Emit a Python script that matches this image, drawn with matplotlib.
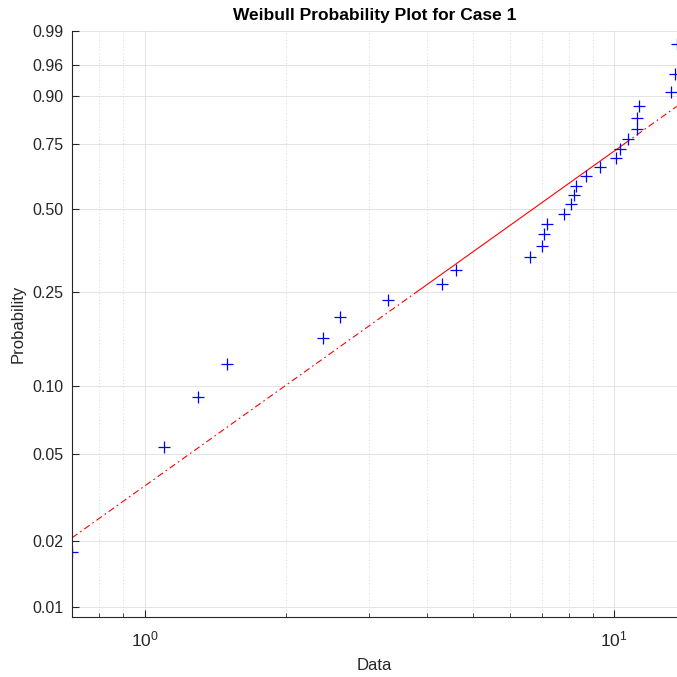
import numpy as np
import matplotlib
matplotlib.use("Agg")
import matplotlib.pyplot as plt
from matplotlib.ticker import FixedLocator, NullLocator, NullFormatter

plt.rcParams["font.family"] = ["Liberation Sans", "DejaVu Sans"]
plt.rcParams["mathtext.fontset"] = "custom"
plt.rcParams["mathtext.rm"] = "Liberation Sans"
plt.rcParams["mathtext.it"] = "Liberation Sans:italic"
plt.rcParams["mathtext.bf"] = "Liberation Sans:bold"

# дані, відсортовані
data = [0.70, 1.10, 1.30, 1.50, 2.40, 2.60, 3.30, 4.30, 4.60, 6.60,
        7.00, 7.10, 7.20, 7.80, 8.10, 8.20, 8.30, 8.70, 9.30, 10.1,
        10.3, 10.7, 11.2, 11.2, 11.3, 13.2, 13.5, 13.6]
prob_ticks = [0.01, 0.02, 0.05, 0.10, 0.25, 0.50, 0.75, 0.90, 0.96, 0.99]
prob_labels = ["0.01", "0.02", "0.05", "0.10", "0.25", "0.50", "0.75", "0.90", "0.96", "0.99"]
title = "Weibull Probability Plot for Case 1"


def wbl_fwd(p):
    p = np.clip(np.asarray(p, dtype=float), 1e-12, 1 - 1e-12)
    return np.log(-np.log(1 - p))


def wbl_inv(y):
    return 1 - np.exp(-np.exp(np.asarray(y, dtype=float)))


x = np.sort(np.array(data))
n = len(x)
# позиції побудови як у wblplot: (i - 0.5) / n
p = (np.arange(1, n + 1) - 0.5) / n

# опорна лінія через 25-й і 75-й перцентилі
q1, q3 = np.percentile(x, [25, 75], method="hazen")
y1, y3 = wbl_fwd(0.25), wbl_fwd(0.75)
slope = (y3 - y1) / (np.log(q3) - np.log(q1))


def ref_line(xx):
    return wbl_inv(y1 + slope * (np.log(xx) - np.log(q1)))


fig = plt.figure(figsize=(6.77, 6.77), dpi=100)
ax = fig.add_axes([0.1064, 0.0886, 0.8936, 0.8656])
ax.set_xscale("log")
ax.set_yscale("function", functions=(wbl_fwd, wbl_inv))

grey = "#262626"
ax.grid(True, which="major", color="#dedede", linewidth=0.6, linestyle="-")
ax.grid(True, which="minor", axis="x", color="#cfcfcf", linewidth=0.6, linestyle=(0, (1, 3)))
ax.set_axisbelow(True)

xs_low = np.geomspace(x.min(), q1, 50)
xs_mid = np.geomspace(q1, q3, 50)
xs_high = np.geomspace(q3, x.max(), 50)
ax.plot(xs_low, ref_line(xs_low), color="red", lw=0.8, linestyle=(0, (6, 3, 1.5, 3)))
ax.plot(xs_mid, ref_line(xs_mid), color="red", lw=0.8, linestyle="-")
ax.plot(xs_high, ref_line(xs_high), color="red", lw=0.8, linestyle=(0, (6, 3, 1.5, 3)))

ax.plot(x, p, linestyle="none", marker="+", color="blue", markersize=8, markeredgewidth=0.9)

ax.set_xlim(x.min(), x.max())
ax.set_ylim(0.009, 0.99)

ax.yaxis.set_major_locator(FixedLocator(prob_ticks))
ax.set_yticklabels(prob_labels)
ax.yaxis.set_minor_locator(NullLocator())
ax.xaxis.set_minor_formatter(NullFormatter())

for side in ["top", "right"]:
    ax.spines[side].set_visible(False)
for side in ["left", "bottom"]:
    ax.spines[side].set_color(grey)
    ax.spines[side].set_linewidth(0.8)

ax.tick_params(axis="both", which="major", direction="in", length=5, width=0.8,
               color=grey, labelcolor=grey, labelsize=11.5, pad=6)
ax.tick_params(axis="x", which="minor", direction="in", length=3, width=0.6, color=grey)
ax.tick_params(axis="x", which="major", labelsize=12.5, pad=9)

ax.set_title(title, fontsize=12.5, fontweight="bold", color="black", pad=8)
ax.set_xlabel("Data", fontsize=12, color=grey, labelpad=6)
ax.set_ylabel("Probability", fontsize=12, color=grey, labelpad=5)

fig.savefig("out.png", dpi=100)
